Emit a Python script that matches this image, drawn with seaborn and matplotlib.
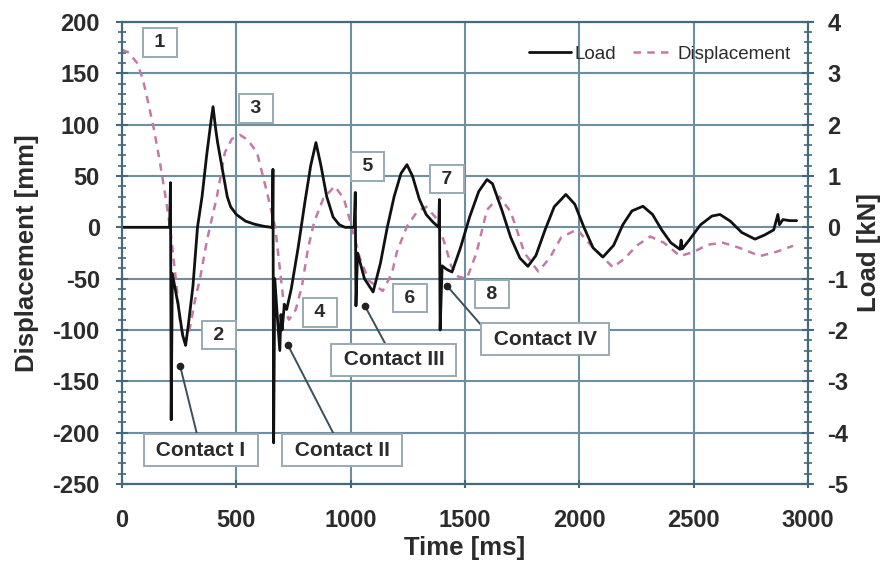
import numpy as np
import pandas as pd
import matplotlib
matplotlib.use('Agg')
import matplotlib.pyplot as plt
from matplotlib.ticker import MultipleLocator
import seaborn as sns

# --- data ---
load_t = [0, 190, 208, 212, 215, 220, 245, 265, 278, 290, 310, 330, 350, 370, 390, 398,
          410, 418, 440, 460, 475, 500, 540, 580, 620, 652,
          658, 660, 663, 668, 680, 690, 695, 700, 710, 720, 740, 770, 800, 825, 848,
          870, 895, 923, 950, 975, 1015,
          1020, 1023, 1030, 1060, 1098, 1130, 1160, 1190, 1220, 1246, 1270, 1300, 1330, 1360, 1385,
          1388, 1391, 1400, 1420, 1443, 1480, 1520, 1560, 1596, 1620, 1660, 1700, 1740, 1775,
          1810, 1850, 1890, 1941, 1980, 2020, 2060, 2103, 2150, 2190, 2230, 2278, 2320, 2360,
          2400, 2440, 2445, 2450, 2480, 2530, 2580, 2615, 2660, 2710, 2768, 2810, 2850, 2868,
          2875, 2890, 2920, 2950]
load_kn = [0.0, 0.0, 0.0, 0.87, -3.75, -0.9, -1.5, -2.1, -2.3, -1.9, -1.15, 0.0, 0.6, 1.4, 2.1, 2.35,
           1.9, 1.65, 1.1, 0.6, 0.4, 0.25, 0.12, 0.06, 0.02, 0.0,
           0.0, 1.13, -4.2, -1.0, -1.8, -2.4, -1.7, -2.0, -1.5, -1.6, -1.2, -0.4, 0.5, 1.2, 1.65,
           1.2, 0.6, 0.2, 0.05, 0.0, 0.0,
           0.68, -1.53, -0.5, -1.0, -1.26, -0.7, 0.0, 0.6, 1.05, 1.22, 1.0, 0.55, 0.25, 0.1, 0.0,
           0.54, -2.0, -0.75, -0.82, -0.87, -0.4, 0.2, 0.7, 0.93, 0.85, 0.35, -0.2, -0.6, -0.76,
           -0.55, -0.05, 0.4, 0.64, 0.45, 0.0, -0.4, -0.58, -0.35, 0.05, 0.32, 0.41, 0.25, -0.05,
           -0.3, -0.43, -0.25, -0.42, -0.25, 0.05, 0.22, 0.25, 0.12, -0.1, -0.23, -0.15, -0.05, 0.25,
           0.05, 0.15, 0.13, 0.13]

disp_t = [0, 30, 66, 90, 109, 140, 166, 190, 210, 235, 255, 275, 295, 320, 341, 372, 415, 450,
          480, 516, 550, 590, 634, 670, 690, 710, 730, 760, 787, 813, 840, 880, 930, 970, 1005,
          1040, 1080, 1140, 1180, 1202, 1246, 1290, 1330, 1370, 1410, 1440, 1470, 1508, 1550,
          1596, 1650, 1700, 1760, 1820, 1870, 1920, 1990, 2060, 2147, 2200, 2250, 2310, 2370,
          2440, 2500, 2560, 2628, 2700, 2790, 2860, 2935]
disp_mm = [173, 170, 160, 145, 127, 95, 63, 30, 0, -50, -95, -112, -100, -70, -50, -12, 30, 73,
           86, 90, 85, 73, 34, 0, -40, -80, -90, -80, -57, -21, 5, 28, 40, 28, 0,
           -30, -52, -62, -45, -24, 1, 15, 20, 10, -15, -38, -48, -50, -25,
           17, 30, 15, -25, -43, -30, -10, -2, -20, -39, -30, -18, -9, -15,
           -28, -24, -17, -15, -20, -28, -24, -18]

# numbered event boxes (displacement axis units)
num_labels = ['1', '2', '3', '4', '5', '6', '7', '8']
num_t = [166, 424, 586, 866, 1075, 1259, 1421, 1618]
num_mm = [180, -105, 116, -83, 59, -69, 47, -65]

# contact callouts
contact_labels = ['Contact I', 'Contact II', 'Contact III', 'Contact IV']
contact_box_t = [345, 962, 1189, 1850]
contact_box_mm = [-217, -217, -129, -109]
contact_pt_t = [254, 726, 1063, 1421]
contact_pt_mm = [-135, -115, -77, -57]
contact_relpos = [(0.5, 0.5), (0.5, 0.5), (0.5, 0.5), (0.0, 0.85)]

load_df = pd.DataFrame({'Time': load_t, 'Load': load_kn})
disp_df = pd.DataFrame({'Time': disp_t, 'Displacement': disp_mm})

# --- style ---
sns.set_theme(style='white')
plt.rcParams['font.family'] = ['Liberation Sans', 'DejaVu Sans']
plt.rcParams['axes.unicode_minus'] = False
grid_c = '#6e8fa2'
spine_c = '#45687a'
txt_c = '#2b2b2b'
disp_c = '#c27aa6'
disp_ls = (0, (3, 2.5))

fig = plt.figure(figsize=(8.83, 5.69), dpi=100)
ax = fig.add_axes([0.1382, 0.1494, 0.7769, 0.8120])
ax2 = ax.twinx()

sns.lineplot(data=disp_df, x='Time', y='Displacement', ax=ax, sort=False, estimator=None,
             color=disp_c, lw=1.8, linestyle=disp_ls, label=None)
sns.lineplot(data=load_df, x='Time', y='Load', ax=ax2, sort=False, estimator=None,
             color='#111111', lw=2.0, label=None)

ax.set_xlim(0, 3000)
ax.set_ylim(-250, 200)
ax2.set_ylim(-5, 4)
ax.xaxis.set_major_locator(MultipleLocator(500))
ax.yaxis.set_major_locator(MultipleLocator(50))
ax.yaxis.set_minor_locator(MultipleLocator(10))
ax2.yaxis.set_major_locator(MultipleLocator(1))
ax2.yaxis.set_minor_locator(MultipleLocator(0.2))

ax.grid(True, which='major', color=grid_c, lw=1.5)
ax.set_axisbelow(True)
for a in (ax, ax2):
    for s in a.spines.values():
        s.set_color(spine_c)
        s.set_linewidth(1.5)

tick_font = dict(fontsize=17, fontweight='bold', color=txt_c)
ax.tick_params(axis='x', which='major', length=6, width=1.5, color=spine_c,
               direction='inout', bottom=True, pad=15)
ax.tick_params(axis='y', which='major', length=8, width=1.5, color=spine_c,
               direction='inout', left=True, pad=12)
ax.tick_params(axis='y', which='minor', length=6, width=1.2, color=spine_c,
               direction='inout', left=True)
ax2.tick_params(axis='y', which='major', length=8, width=1.5, color=spine_c,
                direction='inout', right=True, pad=10)
ax2.tick_params(axis='y', which='minor', length=6, width=1.2, color=spine_c,
                direction='inout', right=True)
for lab in ax.get_xticklabels() + ax.get_yticklabels() + ax2.get_yticklabels():
    lab.set(**tick_font)

label_font = dict(fontsize=18.5, fontweight='bold', color=txt_c)
ax.set_xlabel('Time [ms]', labelpad=3, **label_font)
ax.set_ylabel('Displacement [mm]', labelpad=10, **label_font)
ax2.set_ylabel('Load [kN]', labelpad=6, **label_font)

# legend
handles = [plt.Line2D([], [], color='#111111', lw=2.0),
           plt.Line2D([], [], color=disp_c, lw=1.8, linestyle=disp_ls)]
leg = ax2.legend(handles, ['Load', 'Displacement'], loc='upper right', frameon=False, ncol=2,
                 prop={'size': 13.5}, handlelength=2.2, columnspacing=0.9,
                 handletextpad=0.2, bbox_to_anchor=(1.0, 0.985))
for t in leg.get_texts():
    t.set_color(txt_c)

box_style = dict(boxstyle='square,pad=0.3', fc='white', ec='#9aaab3', lw=1.4)
for lab, t, mm in zip(num_labels, num_t, num_mm):
    ax.text(t, mm, f' {lab} ', ha='center', va='center', fontsize=14, fontweight='bold',
            color=txt_c, bbox=box_style, zorder=5)

for lab, bt, bm, pt, pm, rp in zip(contact_labels, contact_box_t, contact_box_mm,
                                   contact_pt_t, contact_pt_mm, contact_relpos):
    ax.annotate(f' {lab} ', xy=(pt, pm), xytext=(bt, bm), ha='center', va='center',
                fontsize=15, fontweight='bold', color=txt_c, bbox=box_style,
                arrowprops=dict(arrowstyle='-', color='#3a4f5a', lw=1.4,
                                shrinkA=0, shrinkB=0, relpos=rp), zorder=5)
    ax.plot(pt, pm, 'o', color='#222222', ms=4.5, zorder=6)

fig.savefig('out.png', dpi=100)
